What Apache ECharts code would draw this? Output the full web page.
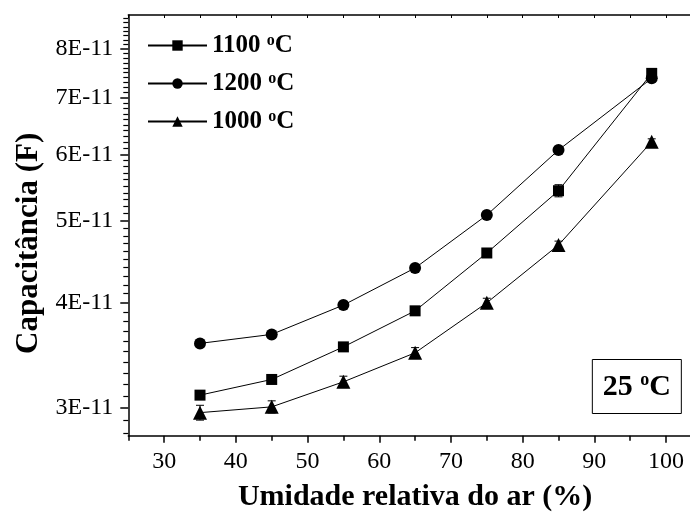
<!DOCTYPE html>
<html><head><meta charset="utf-8">
<script src="https://cdn.jsdelivr.net/npm/echarts@6/dist/echarts.min.js"></script>
<style>html,body{margin:0;padding:0;background:#fff}#c{width:690px;height:520px}</style>
</head><body><div id="c"></div>
<script>
// Data (capacitance in units of 1E-11 F)
const humidity = [35, 45, 55, 65, 75, 85, 98];
const cap1100 = [3.106, 3.242, 3.544, 3.911, 4.581, 5.431, 7.485];
const cap1200 = [3.578, 3.667, 3.973, 4.397, 5.081, 6.070, 7.384];
const cap1000 = [2.961, 3.008, 3.221, 3.487, 3.998, 4.682, 6.209];
const err1100 = [0.02, 0.02, 0.03, 0.03, 0.04, 0.09, 0.03];
const err1200 = [0.02, 0.02, 0.02, 0.03, 0.03, 0.04, 0.03];
const err1000 = [0.06, 0.05, 0.05, 0.05, 0.05, 0.05, 0.05];

// Axis ticks / labels
const xMajorTicks = [30, 40, 50, 60, 70, 80, 90, 100];
const xMinorTicks = [25, 35, 45, 55, 65, 75, 85, 95, 105];
const xTopTicks = [25, 30, 35, 40, 45, 50, 55, 60, 65, 70, 75, 80, 85, 90, 95, 100, 105];
const yTickLabels = [3, 4, 5, 6, 7, 8];
const yRange = [2.78, 8.78];
const yMinorStep = 0.1;

const L = v => Math.log10(v) - 11;
const yMinor = [];
for (let k = Math.round(yRange[0] * 10); k <= Math.round(yRange[1] * 10); k++) {
  if (k % 10 !== 0) yMinor.push(L(k * yMinorStep));
}

const SERIF = "'Liberation Serif','Times New Roman',serif";
const black = '#000';

function lineSeries(name, vals, symbol, size) {
  return {
    type: 'line', name: name, xAxisIndex: 0, yAxisIndex: 0,
    data: humidity.map((x, i) => [x, L(vals[i])]),
    symbol: symbol, symbolSize: size, showSymbol: true,
    lineStyle: { color: black, width: 1 },
    itemStyle: { color: black },
    z: 3, animation: false
  };
}
function errSeries(vals, errs) {
  return {
    type: 'custom', xAxisIndex: 0, yAxisIndex: 0, silent: true, animation: false, z: 2,
    encode: { x: 0, y: [1, 2] },
    data: humidity.map((x, i) => [x, L(vals[i] - errs[i]), L(vals[i] + errs[i])]),
    renderItem: function (params, api) {
      const lo = api.coord([api.value(0), api.value(1)]);
      const hi = api.coord([api.value(0), api.value(2)]);
      const w = 4;
      const st = { stroke: black, lineWidth: 1 };
      return {
        type: 'group', children: [
          { type: 'line', shape: { x1: lo[0], y1: lo[1], x2: hi[0], y2: hi[1] }, style: st },
          { type: 'line', shape: { x1: lo[0] - w, y1: lo[1], x2: lo[0] + w, y2: lo[1] }, style: st },
          { type: 'line', shape: { x1: hi[0] - w, y1: hi[1], x2: hi[0] + w, y2: hi[1] }, style: st }
        ]
      };
    }
  };
}

const axisLineStyle = { color: black, width: 1.5 };
const chart = echarts.init(document.getElementById('c'), null, { renderer: 'canvas' });
chart.setOption({
  backgroundColor: '#fff',
  animation: false,
  grid: { left: 128.3, right: -11.9, top: 15, bottom: 84.3, containLabel: false, outerBoundsMode: 'none' },
  title: {
    text: '{a|25 }{s|o}{a|C}',
    right: 8, top: 359,
    borderColor: black, borderWidth: 1,
    padding: [12, 11, 12, 11],
    textStyle: {
      rich: {
        a: { fontFamily: SERIF, fontWeight: 'bold', fontSize: 30, lineHeight: 32, color: black },
        s: { fontFamily: SERIF, fontWeight: 'bold', fontSize: 18, lineHeight: 18, verticalAlign: 'top', color: black }
      }
    }
  },
  legend: {
    orient: 'vertical', left: 147, top: 33, padding: 0,
    data: ['1100 °C', '1200 °C', '1000 °C'],
    itemWidth: 59, itemHeight: 13, itemGap: 13,
    formatter: function (name) { return '{a|' + name.replace(' °C', '') + ' }{s|o}{a|C}'; },
    textStyle: {
      rich: {
        a: { fontFamily: SERIF, fontWeight: 'bold', fontSize: 25, lineHeight: 25, color: black },
        s: { fontFamily: SERIF, fontWeight: 'bold', fontSize: 16, lineHeight: 14, verticalAlign: 'top', color: black }
      }
    }
  },
  xAxis: [
    {
      type: 'value', position: 'bottom', min: 25, max: 105,
      name: 'Umidade relativa do ar (%)', nameLocation: 'middle', nameGap: 47,
      nameTextStyle: { fontFamily: SERIF, fontWeight: 'bold', fontSize: 30, color: black },
      axisLine: { show: true, lineStyle: axisLineStyle },
      axisTick: { show: true, customValues: xMajorTicks, length: 7, lineStyle: axisLineStyle },
      axisLabel: { customValues: xMajorTicks, fontFamily: SERIF, fontSize: 24, color: black, margin: 14 },
      splitLine: { show: false }
    },
    {
      type: 'value', position: 'bottom', min: 25, max: 105,
      axisLine: { show: false },
      axisTick: { show: true, customValues: xMinorTicks, length: 5, lineStyle: axisLineStyle },
      axisLabel: { show: false }, splitLine: { show: false }
    },
    {
      type: 'value', position: 'top', min: 25, max: 105,
      axisLine: { show: true, lineStyle: axisLineStyle },
      axisTick: { show: true, inside: true, customValues: xTopTicks, length: 3, lineStyle: { color: black, width: 1 } },
      axisLabel: { show: false }, splitLine: { show: false }
    }
  ],
  yAxis: [
    {
      type: 'value', position: 'left', min: L(yRange[0]), max: L(yRange[1]),
      name: 'Capacitância (F)', nameLocation: 'middle', nameGap: 84,
      nameTextStyle: { fontFamily: SERIF, fontWeight: 'bold', fontSize: 31, color: black, padding: [0, 36, 0, 0] },
      axisLine: { show: true, lineStyle: axisLineStyle },
      axisTick: { show: true, customValues: yTickLabels.map(L), length: 8, lineStyle: axisLineStyle },
      axisLabel: {
        customValues: yTickLabels.map(L), fontFamily: SERIF, fontSize: 24, color: black, margin: 15,
        formatter: function (v) { return Math.round(Math.pow(10, v + 11)) + 'E-11'; }
      },
      splitLine: { show: false }
    },
    {
      type: 'value', position: 'left', min: L(yRange[0]), max: L(yRange[1]),
      axisLine: { show: false },
      axisTick: { show: true, customValues: yMinor, length: 5, lineStyle: { color: black, width: 1.2 } },
      axisLabel: { show: false }, splitLine: { show: false }
    }
  ],
  series: [
    errSeries(cap1100, err1100),
    errSeries(cap1200, err1200),
    errSeries(cap1000, err1000),
    lineSeries('1100 °C', cap1100, 'rect', 11),
    lineSeries('1200 °C', cap1200, 'circle', 12),
    lineSeries('1000 °C', cap1000, 'triangle', 14)
  ]
});
</script>
</body></html>
